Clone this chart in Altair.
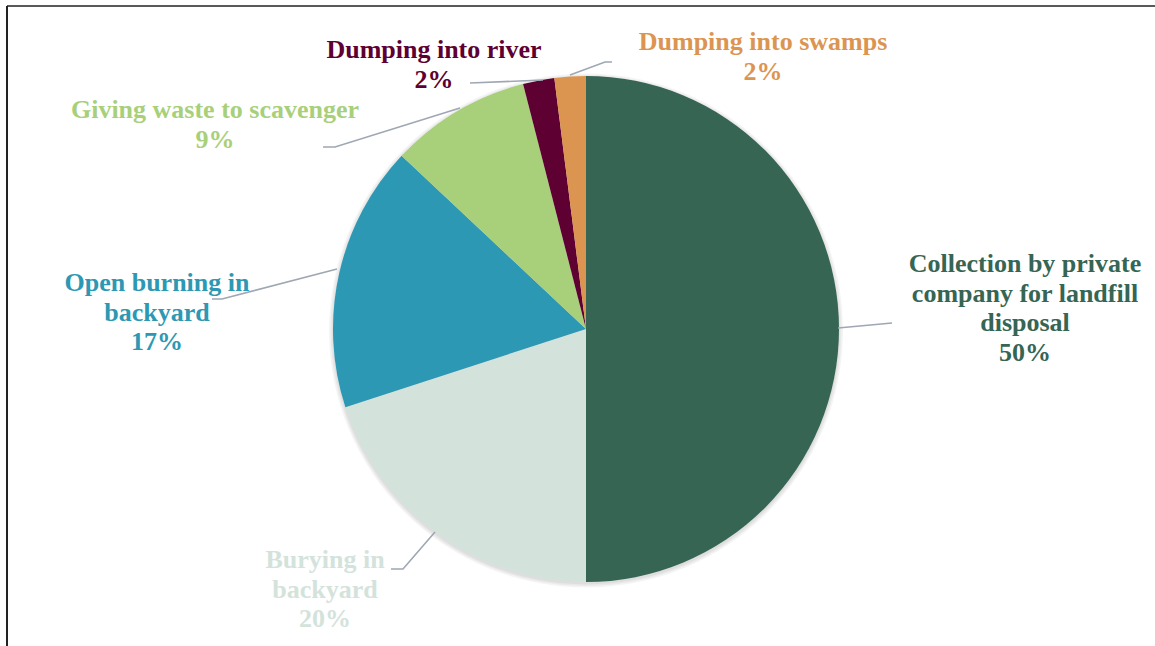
import altair as alt
import pandas as pd

# ---- data ----
categories = [
    "Collection by private company for landfill disposal",
    "Burying in backyard",
    "Open burning in backyard",
    "Giving waste to scavenger",
    "Dumping into river",
    "Dumping into swamps",
]
label_lines = [
    "Collection by private\ncompany for landfill\ndisposal",
    "Burying in\nbackyard",
    "Open burning in\nbackyard",
    "Giving waste to scavenger",
    "Dumping into river",
    "Dumping into swamps",
]
values = [50, 20, 17, 9, 2, 2]
colors = ["#366554", "#d3e3dc", "#2d98b3", "#a8d07a", "#5e0032", "#dc9550"]

# ---- layout (annotation positions, in pixels) ----
W, H = 1155, 646
CX, CY, R = 586, 329, 253
label_x = [1025, 325, 157, 215, 434, 763]
label_y = [272, 568, 291, 118, 58, 50]
leaders = [
    [(838, 328), (892, 323)],
    [(435, 532), (403, 569), (391, 569)],
    [(337, 269), (222, 299), (212, 299)],
    [(460, 108), (335, 147), (323, 147)],
    [(543, 80), (470, 83)],
    [(570, 75), (605, 62), (612, 62)],
]

pie_df = pd.DataFrame({"category": categories, "value": values, "order": list(range(len(values)))})
lab_df = pd.DataFrame({
    "category": categories,
    "text": [f"{l}\n{v}%" for l, v in zip(label_lines, values)],
    "x": label_x,
    "y": label_y,
})
lead_rows = []
for i, pts in enumerate(leaders):
    for j, (px, py) in enumerate(pts):
        lead_rows.append({"id": i, "k": j, "x": px, "y": py})
lead_df = pd.DataFrame(lead_rows)

color_scale = alt.Scale(domain=categories, range=colors)
xs = alt.Scale(domain=[0, W], range=[0, W])
ys = alt.Scale(domain=[0, H], range=[0, H])

total_df = pd.DataFrame({"value": [sum(values)]})
shadows = [
    alt.Chart(total_df).mark_arc(outerRadius=R + k, color="#000000", opacity=0.045).encode(
        theta=alt.Theta("value:Q"),
        x=alt.value(CX),
        y=alt.value(CY + 1.5),
    )
    for k in (1, 2.5, 4)
]

pie = alt.Chart(pie_df).mark_arc(outerRadius=R).encode(
    theta=alt.Theta("value:Q", stack=True),
    order=alt.Order("order:Q", sort="ascending"),
    color=alt.Color("category:N", scale=color_scale, legend=None),
    x=alt.value(CX),
    y=alt.value(CY),
)

lines = alt.Chart(lead_df).mark_line(color="#9ea7b3", strokeWidth=1.6).encode(
    x=alt.X("x:Q", scale=xs, axis=None),
    y=alt.Y("y:Q", scale=ys, axis=None),
    detail="id:N",
    order="k:Q",
)

labels = alt.Chart(lab_df).mark_text(
    font="Liberation Serif", fontWeight="bold", fontSize=26,
    lineBreak="\n", lineHeight=29.5, align="center", baseline="alphabetic",
).encode(
    x=alt.X("x:Q", scale=xs, axis=None),
    y=alt.Y("y:Q", scale=ys, axis=None),
    text="text:N",
    color=alt.Color("category:N", scale=color_scale, legend=None),
)

border = alt.Chart(pd.DataFrame({"a": [0]})).mark_rule(color="#222222", strokeWidth=2).encode(
    x=alt.value(7), y=alt.value(6), y2=alt.value(H + 10)
)
border_top = alt.Chart(pd.DataFrame({"a": [0]})).mark_rule(color="#222222", strokeWidth=1.5).encode(
    x=alt.value(7), x2=alt.value(W + 10), y=alt.value(6)
)

chart = alt.layer(*shadows, pie, lines, labels, border, border_top).properties(
    width=W, height=H, padding=0, autosize=alt.AutoSizeParams(type="none"),
    background="white",
).configure_view(stroke=None)

chart.save("out.html", embed_options={"renderer": "svg", "actions": False})
